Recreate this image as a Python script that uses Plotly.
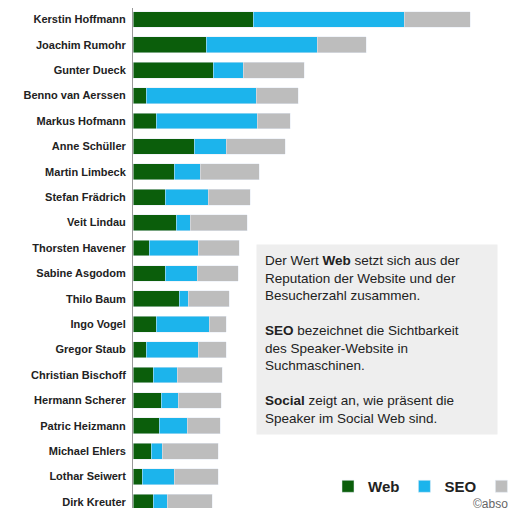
import plotly.graph_objects as go

names = ["Kerstin Hoffmann","Joachim Rumohr","Gunter Dueck","Benno van Aerssen","Markus Hofmann",
         "Anne Schüller","Martin Limbeck","Stefan Frädrich","Veit Lindau","Thorsten Havener",
         "Sabine Asgodom","Thilo Baum","Ingo Vogel","Gregor Staub","Christian Bischoff",
         "Hermann Scherer","Patric Heizmann","Michael Ehlers","Lothar Seiwert","Dirk Kreuter"]
web = [120,73,80,13,23,61,41,32,43,16,32,46,23,13,20,28,26,18,9,20]
seo = [151,111,30,110,101,32,26,43,14,49,32,9,53,52,24,17,28,11,32,14]
social = [66,49,61,42,33,59,59,42,57,41,41,41,17,28,45,43,33,56,44,45]

fig = go.Figure()
for n, v, c in [("Web", web, "#0b5e0b"), ("SEO", seo, "#1cb4ec"), ("Social", social, "#bdbdbd")]:
    fig.add_bar(y=names, x=v, name=n, orientation="h", marker_color=c, width=0.62)

fig.update_layout(
    barmode="stack", width=516, height=508, margin=dict(l=125, r=1, t=0, b=0, autoexpand=False),
    plot_bgcolor="white", paper_bgcolor="white",
    font=dict(family="Arial, Liberation Sans", size=11, color="#222"),
    xaxis=dict(range=[0, 390], visible=False, automargin=False),
    yaxis=dict(range=[19.55, -0.45], automargin=False, showline=True, linecolor="#999", ticks="",
               tickfont=dict(size=11, color="#222"), ticklabelstandoff=4),
    legend=dict(orientation="h", traceorder="normal", x=0.5, y=0.058, xanchor="left", yanchor="middle",
                font=dict(size=15, color="#222", weight="bold"), bgcolor="rgba(0,0,0,0)"),
    showlegend=True,
)
fig.update_yaxes(tickprefix="<b>", ticksuffix="</b>")
fig.add_annotation(xref="paper", yref="paper", x=0.315, y=0.535, xanchor="left", yanchor="top",
    align="left", showarrow=False, bgcolor="#eeeeee", borderpad=8, width=224,
    font=dict(size=13.5, color="#222"),
    text=("Der Wert <b>Web</b> setzt sich aus der<br>Reputation der Website und der<br>Besucherzahl zusammen.<br><br>"
          "<b>SEO</b> bezeichnet die Sichtbarkeit<br>des Speaker-Website in<br>Suchmaschinen.<br><br>"
          "<b>Social</b> zeigt an, wie präsent die<br>Speaker im Social Web sind."))
fig.add_annotation(xref="paper", yref="paper", x=0.99, y=0.005, xanchor="right", yanchor="bottom",
    showarrow=False, text="©absolit", font=dict(size=12, color="#666"))
fig.write_html("out.html")
